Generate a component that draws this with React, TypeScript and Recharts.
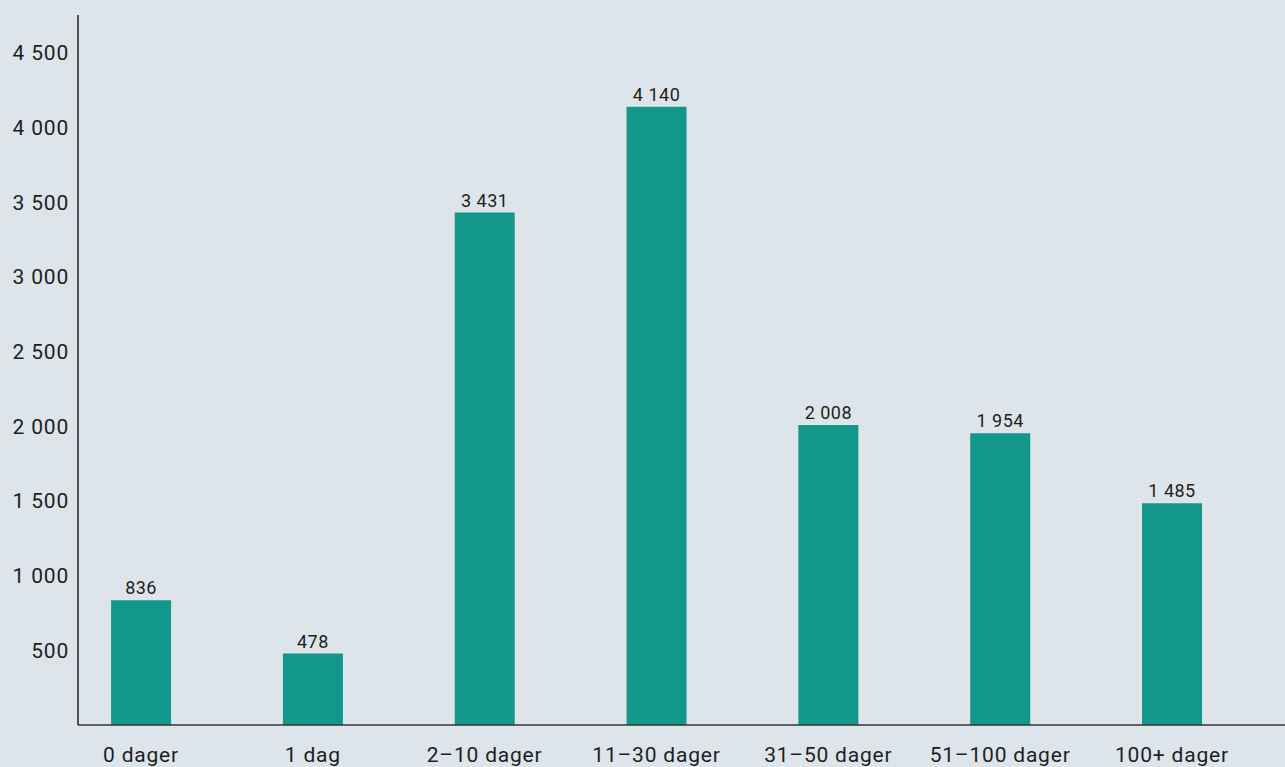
import { BarChart, Bar, XAxis, YAxis, LabelList } from 'recharts'

// Antall saker etter varighet
const categories = ['0 dager', '1 dag', '2–10 dager', '11–30 dager', '31–50 dager', '51–100 dager', '100+ dager']
const counts = [836, 478, 3431, 4140, 2008, 1954, 1485]
const yTicks = [500, 1000, 1500, 2000, 2500, 3000, 3500, 4000, 4500]

const data = categories.map((name, i) => ({ idx: i, name, count: counts[i] }))

const fmt = (v: number | string) => String(v).replace(/\B(?=(\d{3})+(?!\d))/g, ' ')

const BG = '#dde5ea'
const TEAL = '#13978b'
const FONT = 'Roboto, "Noto Sans", sans-serif'

export default function App() {
  return (
    <div style={{ position: 'fixed', inset: 0, background: BG, fontFamily: FONT }}>
      <BarChart
        width={1285}
        height={767}
        data={data}
        margin={{ top: 15, right: 0, left: 0, bottom: 0 }}
      >
        <XAxis
          dataKey="idx"
          type="number"
          domain={[-0.3666, 6.658]}
          ticks={[0, 1, 2, 3, 4, 5, 6]}
          tickFormatter={(i: number) => categories[i] ?? ''}
          allowDataOverflow
          height={42}
          tickLine={false}
          tickMargin={16}
          axisLine={{ stroke: '#333', strokeWidth: 1.5 }}
          tick={{ fill: '#1e1e1e', fontSize: 21, fontFamily: FONT, letterSpacing: 0.8 }}
        />
        <YAxis
          width={78}
          domain={[0, 4754]}
          ticks={yTicks}
          tickFormatter={fmt}
          tickLine={false}
          tickMargin={3}
          axisLine={{ stroke: '#222', strokeWidth: 1.5 }}
          tick={{ fill: '#1e1e1e', fontSize: 21, fontFamily: FONT, letterSpacing: 0.8 }}
        />
        <Bar dataKey="count" fill={TEAL} barSize={60} isAnimationActive={false}>
          <LabelList
            dataKey="count"
            position="top"
            offset={6}
            formatter={fmt}
            style={{ fill: '#1e1e1e', fontSize: 18, fontFamily: FONT, letterSpacing: 0.5 }}
          />
        </Bar>
      </BarChart>
    </div>
  )
}
